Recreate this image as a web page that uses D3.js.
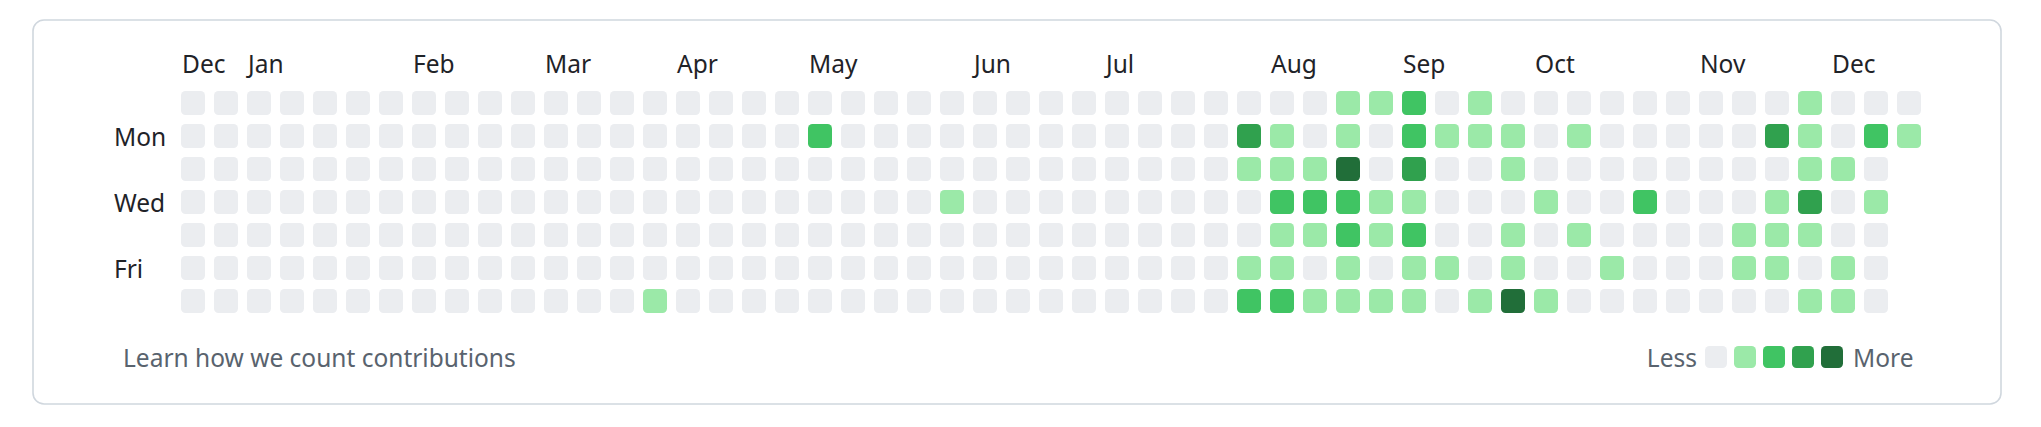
<!DOCTYPE html>
<html>
<head>
<meta charset="utf-8">
<script src="https://cdn.jsdelivr.net/npm/d3@7"></script>
<style>
  html, body { margin: 0; padding: 0; background: #ffffff; }
  svg { display: block; font-family: "Segoe UI", "Noto Sans", "Open Sans", sans-serif; }
</style>
</head>
<body>
<svg id="chart" width="2041" height="427"></svg>
<script>
// ---- data: contribution levels (0-4), one array per weekday, one value per week ----
const sun = [0,0,0,0,0,0,0,0,0,0, 0,0,0,0,0,0,0,0,0,0, 0,0,0,0,0,0,0,0,0,0, 0,0,0,0,0,1,1,2,0,1, 0,0,0,0,0,0,0,0,0,1, 0,0,0];
const mon = [0,0,0,0,0,0,0,0,0,0, 0,0,0,0,0,0,0,0,0,2, 0,0,0,0,0,0,0,0,0,0, 0,0,3,1,0,1,0,2,1,1, 1,0,1,0,0,0,0,0,3,1, 0,2,1];
const tue = [0,0,0,0,0,0,0,0,0,0, 0,0,0,0,0,0,0,0,0,0, 0,0,0,0,0,0,0,0,0,0, 0,0,1,1,1,4,0,3,0,0, 1,0,0,0,0,0,0,0,0,1, 1,0];
const wed = [0,0,0,0,0,0,0,0,0,0, 0,0,0,0,0,0,0,0,0,0, 0,0,0,1,0,0,0,0,0,0, 0,0,0,2,2,2,1,1,0,0, 0,1,0,0,2,0,0,0,1,3, 0,1];
const thu = [0,0,0,0,0,0,0,0,0,0, 0,0,0,0,0,0,0,0,0,0, 0,0,0,0,0,0,0,0,0,0, 0,0,0,1,1,2,1,2,0,0, 1,0,1,0,0,0,0,1,1,1, 0,0];
const fri = [0,0,0,0,0,0,0,0,0,0, 0,0,0,0,0,0,0,0,0,0, 0,0,0,0,0,0,0,0,0,0, 0,0,1,1,0,1,0,1,1,0, 1,0,0,1,0,0,0,1,1,0, 1,0];
const sat = [0,0,0,0,0,0,0,0,0,0, 0,0,0,0,1,0,0,0,0,0, 0,0,0,0,0,0,0,0,0,0, 0,0,2,2,1,1,1,1,0,1, 4,1,0,0,0,0,0,0,0,1, 1,0];
const weekdays = [sun, mon, tue, wed, thu, fri, sat];

// month tick labels and the week column where each starts
const monthLabels = ["Dec","Jan","Feb","Mar","Apr","May","Jun","Jul","Aug","Sep","Oct","Nov","Dec"];
const monthWeeks  = [0, 2, 7, 11, 15, 19, 24, 28, 33, 37, 41, 46, 50];
const dayLabels   = ["Mon","Wed","Fri"];
const dayRows     = [1, 3, 5];
const levels      = [0, 1, 2, 3, 4];
const colors      = ["#ebedf0", "#9be9a8", "#40c463", "#30a14e", "#216e39"];

// ---- layout ----
const nWeeks = 53;
const step = 33, cell = 24;
const fs = 24.5;
const x = d3.scaleLinear().domain([0, nWeeks]).range([181, 181 + nWeeks * step]);
const y = d3.scaleLinear().domain([0, 7]).range([91, 91 + 7 * step]);
const color = d3.scaleOrdinal().domain(levels).range(colors);

const svg = d3.select("#chart");
svg.append("rect").attr("width", 2041).attr("height", 427).attr("fill", "#ffffff");

// card
svg.append("rect")
  .attr("x", 33).attr("y", 20).attr("width", 1968).attr("height", 384)
  .attr("rx", 11).attr("ry", 11)
  .attr("fill", "#ffffff").attr("stroke", "#d0d7de").attr("stroke-width", 1.6);

// cells
const cells = [];
weekdays.forEach((arr, r) => arr.forEach((v, w) => cells.push({ w, r, v })));
svg.append("g").selectAll("rect").data(cells).join("rect")
  .attr("x", d => x(d.w)).attr("y", d => y(d.r))
  .attr("width", cell).attr("height", cell)
  .attr("rx", 4.5).attr("ry", 4.5)
  .attr("fill", d => color(d.v));

// month labels
svg.append("g").selectAll("text").data(monthLabels).join("text")
  .attr("x", (d, i) => x(monthWeeks[i]) + 1)
  .attr("y", 73)
  .attr("font-size", fs)
  .attr("fill", "#1f2328")
  .text(d => d);

// weekday labels
svg.append("g").selectAll("text").data(dayLabels).join("text")
  .attr("x", 114)
  .attr("y", (d, i) => y(dayRows[i]) + 22)
  .attr("font-size", fs)
  .attr("fill", "#1f2328")
  .text(d => d);

// footer
svg.append("text").attr("x", 123).attr("y", 367)
  .attr("font-size", fs).attr("fill", "#59636e")
  .text("Learn how we count contributions");

// legend
const lg = svg.append("g");
lg.append("text").attr("x", 1697).attr("y", 367).attr("text-anchor", "end")
  .attr("font-size", fs).attr("fill", "#59636e").text("Less");
const lx = d3.scaleLinear().domain([0, 5]).range([1705, 1705 + 5 * 29]);
lg.selectAll("rect").data(levels).join("rect")
  .attr("x", d => lx(d)).attr("y", 346)
  .attr("width", 22).attr("height", 22)
  .attr("rx", 4.5).attr("ry", 4.5)
  .attr("fill", d => color(d));
lg.append("text").attr("x", 1853).attr("y", 367)
  .attr("font-size", fs).attr("fill", "#59636e").text("More");
</script>
</body>
</html>
